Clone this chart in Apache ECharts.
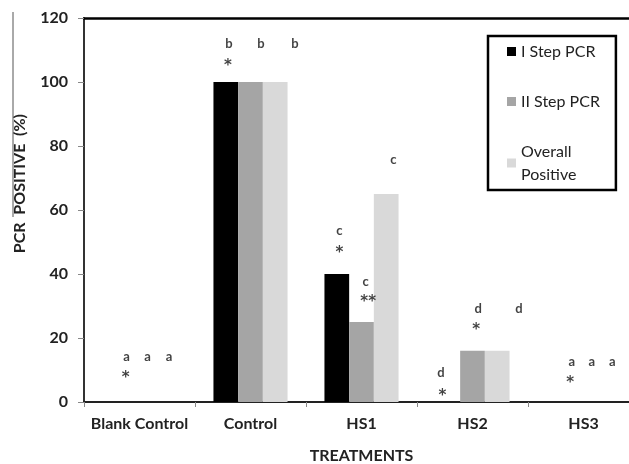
<!DOCTYPE html>
<html>
<head>
<meta charset="utf-8">
<script src="https://cdn.jsdelivr.net/npm/echarts@6/dist/echarts.min.js"></script>
<style>html,body{margin:0;padding:0;background:#fff;}#c{width:629px;height:464px;}</style>
</head>
<body>
<div id="c"></div>
<script>
const categories = ['Blank Control', 'Control', 'HS1', 'HS2', 'HS3'];
const seriesNames = ['I Step PCR', 'II Step PCR', 'Overall Positive'];
const stepOne = [0, 100, 40, 0, 0];
const stepTwo = [0, 100, 25, 16, 0];
const overall = [0, 100, 65, 16, 0];
const yTicks = { min: 0, max: 120, interval: 20 };

// significance annotations (x in category units from left edge, y in %)
const noteX = [0.384, 0.573, 0.766, 0.375,
               1.306, 1.595, 1.90, 1.297,
               2.30, 2.30, 2.538, 2.56, 2.787,
               3.216, 3.23, 3.552, 3.532, 3.919,
               4.394, 4.574, 4.76, 4.38];
const noteY = [14.1, 14.1, 14.1, 8.4,
               112, 112, 112, 106,
               53.4, 47.6, 37.6, 32.1, 75.6,
               9.1, 2.9, 29, 23.3, 29,
               12.5, 12.5, 12.5, 6.8];
const noteText = ['a', 'a', 'a', '*',
                  'b', 'b', 'b', '*',
                  'c', '*', 'c', '**', 'c',
                  'd', '*', 'd', '*', 'd',
                  'a', 'a', 'a', '*'];

const FONT = 'Lato';
const chart = echarts.init(document.getElementById('c'));
const colors = ['#000000', '#a5a5a5', '#d9d9d9'];
const vals = [stepOne, stepTwo, overall];

const barSeries = seriesNames.map((n, i) => ({
  name: n, type: 'bar', data: vals[i], xAxisIndex: 0, yAxisIndex: 0,
  barWidth: 24.7, barGap: '0%', itemStyle: { color: colors[i] }, z: 2
}));

const notes = noteX.map((x, i) => {
  const star = noteText[i].indexOf('*') >= 0;
  return {
    value: [x, noteY[i]],
    label: {
      show: true, position: 'inside', formatter: noteText[i],
      fontFamily: star ? 'DejaVu Sans' : FONT, fontWeight: 'bold', color: '#111',
      fontSize: star ? 15 : 13, offset: star ? [0, 3] : [0, 0]
    }
  };
});

chart.setOption({
  animation: false,
  textStyle: { fontFamily: FONT },
  grid: { left: 84, top: 18, width: 555, height: 384, containLabel: false, outerBoundsMode: 'none' },
  legend: {
    orient: 'vertical', left: 488, top: 36,
    data: seriesNames,
    itemWidth: 9, itemHeight: 9, itemGap: 27,
    padding: [4, 16, 4, 19],
    borderColor: '#000', borderWidth: 2.5,
    formatter: n => n === 'Overall Positive' ? 'Overall\nPositive' : n,
    textStyle: { fontFamily: FONT, fontSize: 16, color: '#222', lineHeight: 23 },
    icon: 'rect'
  },
  xAxis: [{
    type: 'category', data: categories, position: 'bottom',
    axisLine: { lineStyle: { color: '#222', width: 2 } },
    axisTick: { show: true, length: 5, lineStyle: { color: '#888' } },
    axisLabel: { interval: 0, fontFamily: FONT, fontWeight: 'bold', fontSize: 16, color: '#222', margin: 14 },
    name: 'TREATMENTS', nameLocation: 'middle', nameGap: 46,
    nameTextStyle: { fontFamily: FONT, fontWeight: 'bold', fontSize: 16, color: '#222' }
  }, {
    type: 'value', min: 0, max: 5, position: 'top',
    axisLine: { show: true, lineStyle: { color: '#000', width: 2.5 } },
    axisTick: { show: false }, axisLabel: { show: false }, splitLine: { show: false }
  }],
  yAxis: [{
    type: 'value', min: yTicks.min, max: yTicks.max, interval: yTicks.interval,
    axisLine: { show: true, lineStyle: { color: '#333', width: 2 } },
    axisTick: { show: true, length: 6, lineStyle: { color: '#888' } },
    splitLine: { show: false },
    axisLabel: { fontFamily: FONT, fontWeight: 'bold', fontSize: 16, color: '#222', margin: 16 }
  }],
  graphic: [
    {
      type: 'text', left: 12, top: 114, rotation: Math.PI / 2,
      style: { text: 'PCR  POSITIVE  (%)', fontFamily: FONT, fontWeight: 'bold', fontSize: 16, fill: '#222' }
    },
    {
      type: 'line', shape: { x1: 13, y1: 12, x2: 13, y2: 217 },
      style: { stroke: '#555', lineWidth: 1 }
    }
  ],
  series: barSeries.concat([{
    type: 'scatter', xAxisIndex: 1, yAxisIndex: 0, symbolSize: 1,
    itemStyle: { color: 'rgba(0,0,0,0)' }, data: notes, z: 5, silent: true
  }])
});
</script>
</body>
</html>
